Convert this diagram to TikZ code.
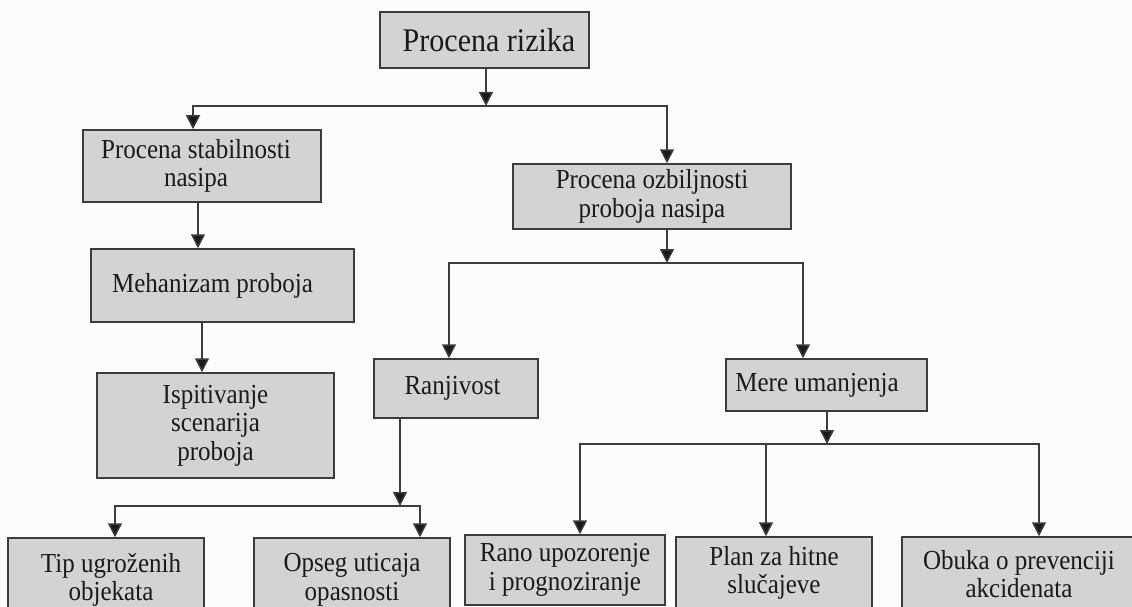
\documentclass[tikz,border=0pt]{standalone}
\usepackage{fontspec}
\setmainfont{Liberation Serif}[FakeStretch=0.91]
\usepackage{tikz}
\usetikzlibrary{positioning}
\usetikzlibrary{arrows.meta}
\usetikzlibrary{calc}
\definecolor{boxgray}{RGB}{211,211,213}
\definecolor{edgegray}{RGB}{60,60,60}
\definecolor{inkgray}{RGB}{26,26,26}
\definecolor{paper}{RGB}{252,252,252}

\begin{document}
\begin{tikzpicture}[
  x=1pt, y=-1pt,
  box/.style={
    draw=edgegray, fill=boxgray, line width=1.5pt,
    text=inkgray, align=center, inner sep=2pt,
    font=\fontsize{27.5}{28.5}\selectfont,
  },
  ln/.style={draw=edgegray, line width=1.5pt},
  arr/.style={ln, -{Triangle[width=14pt,length=14pt,fill=inkgray]}},
]
  \useasboundingbox (0,0) rectangle (1132,607);
  \clip (0,0) rectangle (1132,607);
  \fill[paper] (0,0) rectangle (1132,607);

  \node[box, minimum width=209pt, minimum height=56pt,
    font=\fontsize{33}{34}\selectfont] (rizika) at (484.5,40)
    {\hspace*{9pt}Procena rizika};

  % lijeva grana
  \node[box, minimum width=238pt, minimum height=72pt] (stab) at (202,166)
    {Procena stabilnosti\hspace*{12pt}\\nasipa\hspace*{12pt}};
  \node[box, minimum width=263pt, minimum height=73pt] (meh) at (222.5,285.5)
    {Mehanizam proboja\hspace*{20pt}};
  \node[box, minimum width=237pt, minimum height=105pt] (isp) at (215.5,425.5)
    {Ispitivanje\\scenarija\\proboja};

  % desna grana
  \node[box, minimum width=278pt, minimum height=65pt] (ozb) at (652,196.5)
    {Procena ozbiljnosti\\proboja nasipa};
  \node[box, minimum width=164pt, minimum height=59pt] (ranj) at (456,388.5)
    {Ranjivost\hspace*{7pt}};
  \node[box, minimum width=201pt, minimum height=52pt] (mere) at (826.5,385)
    {Mere umanjenja\hspace*{19pt}};

  \node[box, minimum width=196pt, minimum height=84pt] (tip) at (106,580)
    {\hspace*{10pt}Tip ugroženih\\\hspace*{10pt}objekata};
  \node[box, minimum width=196pt, minimum height=84pt] (opseg) at (352,580)
    {Opseg uticaja\\opasnosti};
  \node[box, minimum width=200pt, minimum height=70pt] (rano) at (565,570)
    {Rano upozorenje\\i prognoziranje};
  \node[box, minimum width=196pt, minimum height=72pt] (plan) at (774,573)
    {Plan za hitne\\slučajeve};
  \node[box, minimum width=234pt, minimum height=74pt] (obuka) at (1019,574)
    {Obuka o prevenciji\\akcidenata};

  \coordinate (sp1) at (486,106);
  \coordinate (sp2) at (667,263);
  \coordinate (sp3) at (400,506);
  \coordinate (sp4) at (827,444);

  \draw[arr] (rizika.south -| sp1) -- (sp1);
  \draw[arr] (sp1) -| ([xshift=-9pt]stab.north);
  \draw[arr] (sp1) -| ([xshift=15pt]ozb.north);

  \draw[arr] ([xshift=-4pt]stab.south) -- ([xshift=-4pt]stab.south |- meh.north);
  \draw[arr] ([xshift=-20.5pt]meh.south) -- ([xshift=-20.5pt]meh.south |- isp.north);

  \draw[arr] (ozb.south -| sp2) -- (sp2);
  \draw[arr] (sp2) -| ([xshift=-7pt]ranj.north);
  \draw[arr] (sp2) -| ([xshift=-23.5pt]mere.north);

  \draw[arr] (ranj.south -| sp3) -- (sp3);
  \draw[arr] (sp3) -| ([xshift=9pt]tip.north);
  \draw[arr] (sp3) -| ([xshift=68pt]opseg.north);

  \draw[arr] (mere.south -| sp4) -- (sp4);
  \draw[arr] (sp4) -| ([xshift=15pt]rano.north);
  \draw[arr] (sp4) -| ([xshift=-8pt]plan.north);
  \draw[arr] (sp4) -| ([xshift=20pt]obuka.north);
\end{tikzpicture}
\end{document}
